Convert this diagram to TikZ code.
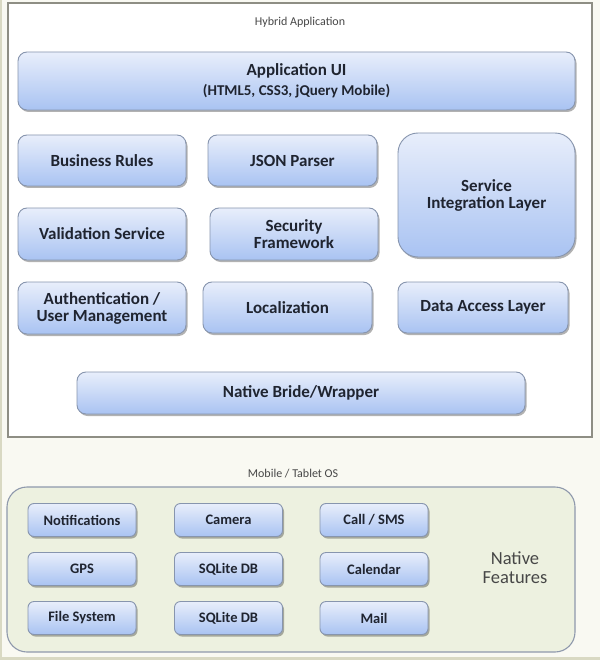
\documentclass[tikz,border=0pt]{standalone}
\usepackage{fontspec}
\setmainfont{Carlito}
\usetikzlibrary{shadows}

\definecolor{bgcream}{HTML}{F9F9F2}
\definecolor{bgedge}{HTML}{D9D9C3}
\definecolor{frameedge}{HTML}{8E8E84}
\definecolor{bluetop}{HTML}{E8EEFB}
\definecolor{bluebottom}{HTML}{A9C3F2}
\definecolor{boxedge}{HTML}{8795AE}
\definecolor{textdark}{HTML}{1F2430}
\definecolor{osfill}{HTML}{EDF1E0}
\definecolor{osedge}{HTML}{8F99AC}
\definecolor{labelgrey}{HTML}{474747}

\begin{document}
\begin{tikzpicture}[x=1pt, y=-1pt,
  every node/.style = {align=center, inner sep=2pt, text=textdark},
  layer/.style = {shape=rectangle, rounded corners=9pt, draw=boxedge, line width=0.9pt,
    top color=bluetop, bottom color=bluebottom,
    font=\bfseries\fontsize{17}{17}\selectfont,
    drop shadow={shadow xshift=1.5pt, shadow yshift=-2pt, opacity=0.3, fill=black}},
  feature/.style = {layer, rounded corners=6pt, font=\bfseries\fontsize{14.5}{16}\selectfont,
    minimum width=108pt, minimum height=33pt},
  sized/.style 2 args = {minimum width=#1pt, minimum height=#2pt},
  caption/.style = {font=\fontsize{12}{14}\selectfont, text=labelgrey}]
  \useasboundingbox (0,0) rectangle (600,660);
  \fill[bgcream] (0,0) rectangle (600,660);
  \draw[bgedge, line width=2.5pt] (1.2,0) -- (1.2,658.5) -- (600,658.5);

  % hybrid application
  \node (hybrid) [shape=rectangle, draw=frameedge, line width=1.1pt, fill=white, sized={584}{434},
    drop shadow={shadow xshift=1pt, shadow yshift=-1pt, opacity=0.2, fill=black}] at (300,220) {};
  \node (hybridlbl) [caption] at (300,22) {Hybrid Application};
  \node (appui) [layer, sized={557}{58}] at (296.5,81)
    {Application UI\\[3pt] {\fontsize{15}{17}\selectfont (HTML5, CSS3, jQuery Mobile)}};
  \node (rules)  [layer, sized={168}{51}] at (102,160.5) {Business Rules};
  \node (json)   [layer, sized={169}{51}] at (292.5,160.5) {JSON Parser};
  \node (sil)    [layer, rounded corners=20pt, sized={177}{124}] at (486.5,195) {Service\\Integration Layer};
  \node (valid)  [layer, sized={168}{52}] at (102,234) {Validation Service};
  \node (secfw)  [layer, sized={168}{52}] at (294,234) {Security\\Framework};
  \node (auth)   [layer, sized={168}{52}] at (102,308) {Authentication /\\User Management};
  \node (local)  [layer, sized={169}{51}] at (287.5,307.5) {Localization};
  \node (dal)    [layer, sized={170}{51}] at (483,307.5) {Data Access Layer};
  \node (bridge) [layer, sized={448}{42}] at (301,393) {Native Bride/Wrapper};

  % mobile / tablet os
  \node (oslbl) [caption] at (293,474) {Mobile / Tablet OS};
  \node (os) [shape=rectangle, rounded corners=20pt, draw=osedge, line width=1.1pt, fill=osfill,
    sized={568}{165}] at (291,569.5) {};
  \node (notif)  [feature] at (82,520) {Notifications};
  \node (camera) [feature] at (228.5,520) {Camera};
  \node (call)   [feature] at (374,520) {Call / SMS};
  \node (gps)    [feature] at (82,569) {GPS};
  \node (sqlone) [feature] at (228.5,569) {SQLite DB};
  \node (cal)    [feature] at (374,569) {Calendar};
  \node (files)  [feature] at (82,618) {File System};
  \node (sqltwo) [feature] at (228.5,618) {SQLite DB};
  \node (mail)   [feature] at (374,618) {Mail};
  \node (native) [font=\fontsize{18.5}{19}\selectfont, text=labelgrey] at (515,568) {Native\\Features};
\end{tikzpicture}
\end{document}
